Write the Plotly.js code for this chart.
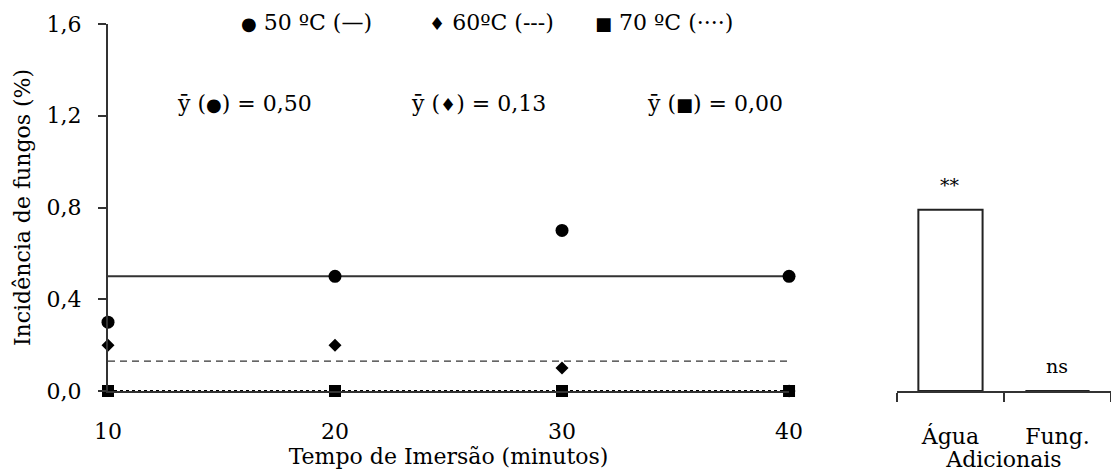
<!DOCTYPE html>
<html><head><meta charset="utf-8">
<script src="https://cdn.plot.ly/plotly-3.0.1.min.js"></script>
<style>html,body{margin:0;padding:0;background:#fff}#c{width:1111px;height:472px}</style>
</head><body><div id="c"></div>
<script>
// Data
const tempos = [10, 20, 30, 40];
const y50 = [0.3, 0.5, 0.7, 0.5];
const y60 = [0.2, 0.2, 0.1, 0.0];
const y70 = [0.0, 0.0, 0.0, 0.0];
const media50 = 0.50, media60 = 0.13, media70 = 0.00;
const adicionais = ['Água', 'Fung.'];
const adicValores = [0.79, 0];
const adicSig = ['**', 'ns'];
const yTicks = [0, 0.4, 0.8, 1.2, 1.6];

const F = 'DejaVu Serif, serif';
const txt = {family: F, size: 22, color: '#000'};
const lineCol = '#333';

function meanLine(m) { return tempos.map(() => m); }

const traces = [
  {x: tempos, y: meanLine(media50), mode: 'lines', line: {color: lineCol, width: 2, dash: 'solid'}, cliponaxis: false, hoverinfo: 'skip'},
  {x: tempos, y: meanLine(media60), mode: 'lines', line: {color: lineCol, width: 1.3, dash: '7px,5px'}, cliponaxis: false, hoverinfo: 'skip'},
  {x: tempos, y: meanLine(media70), mode: 'lines', line: {color: '#000', width: 2, dash: 'dot'}, cliponaxis: false, hoverinfo: 'skip'},
  {x: tempos, y: y70, mode: 'markers', marker: {symbol: 'square', size: 12, color: '#000'}, cliponaxis: false},
  {x: tempos, y: y60, mode: 'markers', marker: {symbol: 'diamond', size: 10, color: '#000'}, cliponaxis: false},
  {x: tempos, y: y50, mode: 'markers', marker: {symbol: 'circle', size: 13, color: '#000'}, cliponaxis: false},
  {x: adicionais, y: adicValores, type: 'bar', xaxis: 'x2', yaxis: 'y2', width: 0.6,
   marker: {color: '#fff', line: {color: '#222', width: 2}}, cliponaxis: false, hoverinfo: 'skip'}
];

const sym = s => '<span style="font-size:18px">' + s + '</span>';
const ann = [];
function addPaper(x, y, t) {
  ann.push({x: x, y: y, xref: 'paper', yref: 'paper', text: t, showarrow: false, font: txt, xanchor: 'center', yanchor: 'middle'});
}
addPaper(0.1984, 1.0054, sym('●') + ' 50 ºC (—)');
addPaper(0.3819, 1.0054, sym('♦') + ' 60ºC (---)');
addPaper(0.5543, 1.0054, sym('■') + ' 70 ºC (····)');
addPaper(0.1356, 0.7847, 'ȳ (' + sym('●') + ') = 0,50');
addPaper(0.3689, 0.7847, 'ȳ (' + sym('♦') + ') = 0,13');
addPaper(0.6052, 0.7847, 'ȳ (' + sym('■') + ') = 0,00');
adicionais.forEach((c, i) => {
  ann.push({x: c, y: adicValores[i], xref: 'x2', yref: 'y2', text: adicSig[i], showarrow: false,
    font: {family: F, size: 19, color: '#000'}, xanchor: 'center', yanchor: 'middle', yshift: 25});
});

const layout = {
  width: 1111, height: 472,
  margin: {l: 108, r: 0, t: 24, b: 81},
  paper_bgcolor: '#fff', plot_bgcolor: 'rgba(0,0,0,0)',
  separators: ',.',
  showlegend: false,
  font: txt,
  xaxis: {domain: [0, 0.679], range: [10, 40], tickvals: tempos, ticks: '', showgrid: false, zeroline: false,
    showline: true, linecolor: lineCol, linewidth: 2, tickfont: txt, ticklabelstandoff: 20,
    title: {text: 'Tempo de Imersão (minutos)', font: {family: F, size: 22, color: '#000'}, standoff: 1}},
  yaxis: {domain: [0, 1], range: [0, 1.6], tickvals: yTicks, tickformat: '.1f', ticks: 'outside', ticklen: 8,
    tickcolor: lineCol, tickwidth: 2, showgrid: false, zeroline: false, showline: true, linecolor: lineCol, linewidth: 2,
    tickfont: txt, ticklabelstandoff: 12,
    title: {text: 'Incidência de fungos (%)', font: {family: F, size: 22, color: '#000'}, standoff: 10}},
  xaxis2: {domain: [0.7866, 1], range: [-0.5, 1.5], anchor: 'y2', showline: true, linecolor: lineCol, linewidth: 2,
    ticks: 'outside', tickson: 'boundaries', ticklen: 9, tickcolor: lineCol, tickwidth: 2, showgrid: false, zeroline: false,
    tickfont: txt, ticklabelstandoff: 25,
    title: {text: 'Adicionais', font: {family: F, size: 22, color: '#000'}, standoff: 2}},
  yaxis2: {domain: [0, 1], range: [0, 1.6], anchor: 'x2', visible: false, showgrid: false, zeroline: false},
  annotations: ann
};

Plotly.newPlot('c', traces, layout, {staticPlot: true, displayModeBar: false});
</script>
</body></html>
